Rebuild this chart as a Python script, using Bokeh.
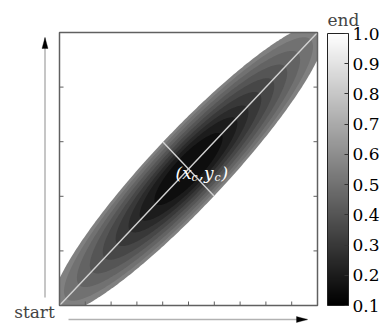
import numpy as np
from bokeh.plotting import figure
from bokeh.models import (ColumnDataSource, LinearColorMapper, ColorBar, FixedTicker,
                          PolyAnnotation, Label, Range1d, PrintfTickFormatter)
from bokeh.palettes import gray
from bokeh.embed import file_html
from bokeh.resources import INLINE

# Filled contour bands, outermost first: level value and semi-axes
# measured along the start->end diagonal (major) and across it (minor).
band_levels = [0.55, 0.50, 0.45, 0.40, 0.35, 0.30, 0.25, 0.20, 0.15]
band_major = [0.736, 0.67, 0.60, 0.53, 0.46, 0.39, 0.32, 0.26, 0.18]
band_minor = [0.140, 0.130, 0.119, 0.108, 0.097, 0.086, 0.075, 0.064, 0.050]

center_x, center_y = 0.5, 0.5
diag_x = [0.0, 1.0]
diag_y = [0.0, 1.0]
cross_half = 0.140

x_ticks = [0.0, 0.1, 0.2, 0.3, 0.4, 0.5, 0.6, 0.7, 0.8, 0.9, 1.0]
y_ticks = [0.0, 0.2, 0.4, 0.6, 0.8, 1.0]
bar_ticks = [0.1, 0.2, 0.3, 0.4, 0.5, 0.6, 0.7, 0.8, 0.9, 1.0]

SERIF = "DejaVu Serif"
FRAME = "#606060"
GUIDE = "#d2d2d2"

# page layout in pixels (left, right, top, bottom of the plotting box)
W, H = 384, 325
BOX_L, BOX_R, BOX_T, BOX_B = 59, 317, 32, 305
TICK_PX = 4

x0, x1 = x_ticks[0], x_ticks[-1]
y0, y1 = y_ticks[0], y_ticks[-1]
px_x = (BOX_R - BOX_L) / (x1 - x0)
px_y = (BOX_B - BOX_T) / (y1 - y0)

p = figure(width=W, height=H,
           x_range=Range1d(x0 - BOX_L / px_x, x0 + (W - BOX_L) / px_x),
           y_range=Range1d(y0 - (H - BOX_B) / px_y, y0 + BOX_B / px_y),
           output_backend="svg", toolbar_location=None, min_border=0,
           x_axis_location=None, y_axis_location=None)
p.grid.visible = False
p.outline_line_color = None

mapper = LinearColorMapper(palette=gray(256), low=0.1, high=1.0)

# ellipse outline for every band, rotated onto the diagonal and kept inside the box
u = np.array([1.0, 1.0]) / np.sqrt(2.0)
n = np.array([-1.0, 1.0]) / np.sqrt(2.0)
t = np.linspace(0.0, 2.0 * np.pi, 361)
xs, ys = [], []
for a, b in zip(band_major, band_minor):
    ex = center_x + a * np.cos(t) * u[0] + b * np.sin(t) * n[0]
    ey = center_y + a * np.cos(t) * u[1] + b * np.sin(t) * n[1]
    xs.append(np.clip(ex, x0, x1))
    ys.append(np.clip(ey, y0, y1))
bands = ColumnDataSource(dict(xs=xs, ys=ys, level=band_levels))
p.patches("xs", "ys", source=bands, line_color=None,
          fill_color={"field": "level", "transform": mapper})

# main axis of the ellipse and the cross line through its centre
p.line(diag_x, diag_y, line_color=GUIDE, line_width=1.4)
p.line([center_x - cross_half * n[0], center_x + cross_half * n[0]],
       [center_y - cross_half * n[1], center_y + cross_half * n[1]],
       line_color=GUIDE, line_width=1.4)

# box and inward ticks (bottom, left, right)
p.quad(left=x0, right=x1, bottom=y0, top=y1, fill_color=None,
       line_color=FRAME, line_width=1.5)
tx = TICK_PX / px_x
ty = TICK_PX / px_y
p.segment(x0=x_ticks, y0=[y0] * len(x_ticks), x1=x_ticks, y1=[y0 + ty] * len(x_ticks),
          line_color=FRAME, line_width=1)
p.segment(x0=[x0] * len(y_ticks), y0=y_ticks, x1=[x0 + tx] * len(y_ticks), y1=y_ticks,
          line_color=FRAME, line_width=1)
p.segment(x0=[x1] * len(y_ticks), y0=y_ticks, x1=[x1 - tx] * len(y_ticks), y1=y_ticks,
          line_color=FRAME, line_width=1)

cbar = ColorBar(color_mapper=mapper, ticker=FixedTicker(ticks=bar_ticks),
                formatter=PrintfTickFormatter(format="%.1f"),
                width=21, height=272, padding=0, margin=0, label_standoff=4,
                major_label_text_font=SERIF, major_label_text_font_size="17px",
                major_label_text_color="black", major_tick_line_color="#333333",
                major_tick_in=4, bar_line_color="#222222",
                background_fill_color=None, location=(327, H - BOX_B))
p.add_layout(cbar)


# direction arrows along the left and bottom edges (canvas pixels, y downwards)
def arrow(xa, ya, xb, yb):
    p.add_layout(PolyAnnotation(xs=[xa, xb], ys=[ya, yb], xs_units="canvas", ys_units="canvas",
                                line_color="black", line_width=1.5, fill_color=None))
    dx, dy = xb - xa, yb - ya
    L = np.hypot(dx, dy)
    ux, uy = dx / L, dy / L
    bx, by = xb - 11 * ux, yb - 11 * uy
    p.add_layout(PolyAnnotation(xs=[xb, bx - 3 * uy, bx + 3 * uy],
                                ys=[yb, by + 3 * ux, by - 3 * ux],
                                xs_units="canvas", ys_units="canvas",
                                line_color="black", line_width=1, fill_color="black",
                                fill_alpha=1.0))


arrow(44.5, 297, 44.5, 37)
arrow(68, 319, 307, 319)

p.add_layout(Label(x=34, y=311, x_units="canvas", y_units="canvas", text="start",
                   text_font=SERIF, text_font_size="17px", text_align="center",
                   text_baseline="middle"))
p.add_layout(Label(x=327, y=19, x_units="canvas", y_units="canvas", text="end",
                   text_font=SERIF, text_font_size="17px", text_align="left",
                   text_baseline="alphabetic"))

# centre label (x_c, y_c) with subscripts
pieces = [("(x", 175, 172, "17px"), ("c", 191, 177, "11px"),
          (",y", 198, 172, "17px"), ("c", 214, 177, "11px"), (")", 221, 172, "17px")]
for txt, px, py, fs in pieces:
    p.add_layout(Label(x=px, y=py, x_units="canvas", y_units="canvas", text=txt,
                       text_font=SERIF, text_font_style="italic",
                       text_font_size=fs, text_color="white", text_baseline="alphabetic"))

open("out.html", "w").write(file_html(p, INLINE))
